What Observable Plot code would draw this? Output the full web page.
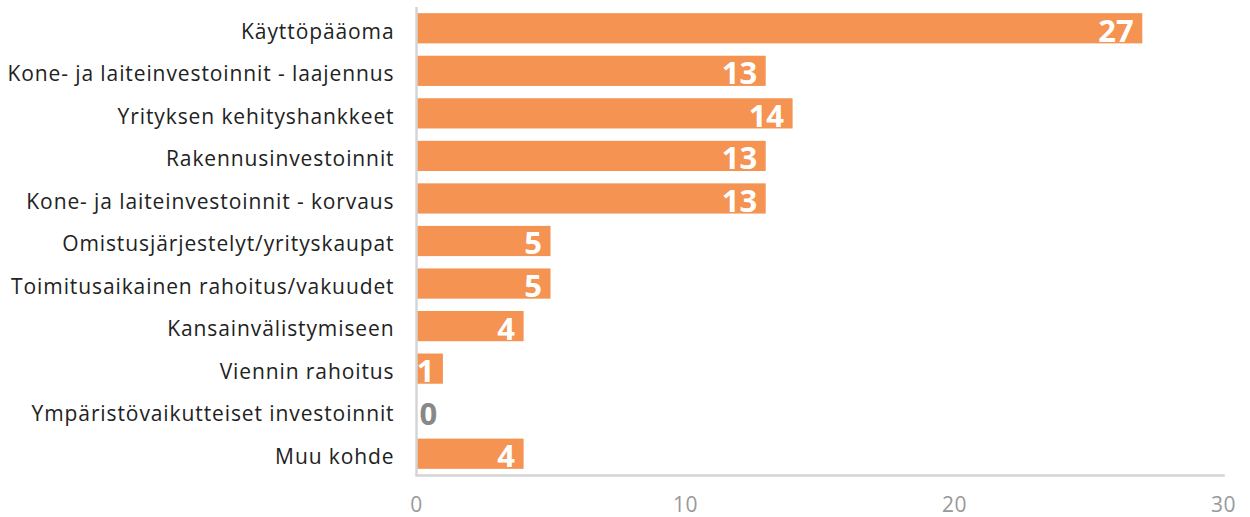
<!DOCTYPE html>
<html><head><meta charset="utf-8">
<script src="https://cdn.jsdelivr.net/npm/d3@7"></script>
<script src="https://cdn.jsdelivr.net/npm/@observablehq/plot@0.6"></script>
<style>
body{margin:0;background:#fff;font-family:"Open Sans",sans-serif}
g[aria-label="y-axis tick label"] text{letter-spacing:0.9px}
g[aria-label="x-axis tick label"] text{letter-spacing:0.5px}
</style>
</head><body><div id="chart"></div>
<script>
const categories = ["Käyttöpääoma","Kone- ja laiteinvestoinnit - laajennus","Yrityksen kehityshankkeet","Rakennusinvestoinnit","Kone- ja laiteinvestoinnit - korvaus","Omistusjärjestelyt/yrityskaupat","Toimitusaikainen rahoitus/vakuudet","Kansainvälistymiseen","Viennin rahoitus","Ympäristövaikutteiset investoinnit","Muu kohde"];
const values = [27,13,14,13,13,5,5,4,1,0,4];
const xTicks = [0,10,20,30];
const data = categories.map((c,i)=>({c, v: values[i]}));
const chart = Plot.plot({
  width: 1250, height: 517,
  marginLeft: 416, marginRight: 27, marginTop: 7, marginBottom: 42,
  style: {fontFamily: "'Open Sans', sans-serif", background: "#fff"},
  x: {domain: [0,30], ticks: xTicks, label: null},
  y: {domain: categories, paddingInner: 0.29, paddingOuter: 0.145, round: false, label: null},
  marks: [
    Plot.barX(data, {x: "v", y: "c", fill: "#F59352"}),
    Plot.frame({anchor: "bottom", stroke: "#d4d4d4", strokeWidth: 2.5}),
    Plot.ruleX([0], {stroke: "#d4d4d4", strokeWidth: 2.5}),
    Plot.axisX({ticks: xTicks, tickSize: 0, tickPadding: 22, fontSize: 21, fill: "#999", label: null}),
    Plot.axisY({tickSize: 0, tickPadding: 22, dy: 3, fontSize: 21, fill: "#222", label: null}),
    Plot.text(data.filter(d=>d.v>0), {x: "v", y: "c", text: d=>String(d.v), textAnchor: "end", dx: -9, dy: 3, fill: "#fff", fontSize: 31, fontWeight: "bold"}),
    Plot.text(data.filter(d=>d.v===0), {x: "v", y: "c", text: d=>String(d.v), textAnchor: "start", dx: 3, dy: 3, fill: "#888", fontSize: 31, fontWeight: "bold"})
  ]
});
document.getElementById("chart").append(chart);
</script>
</body></html>
